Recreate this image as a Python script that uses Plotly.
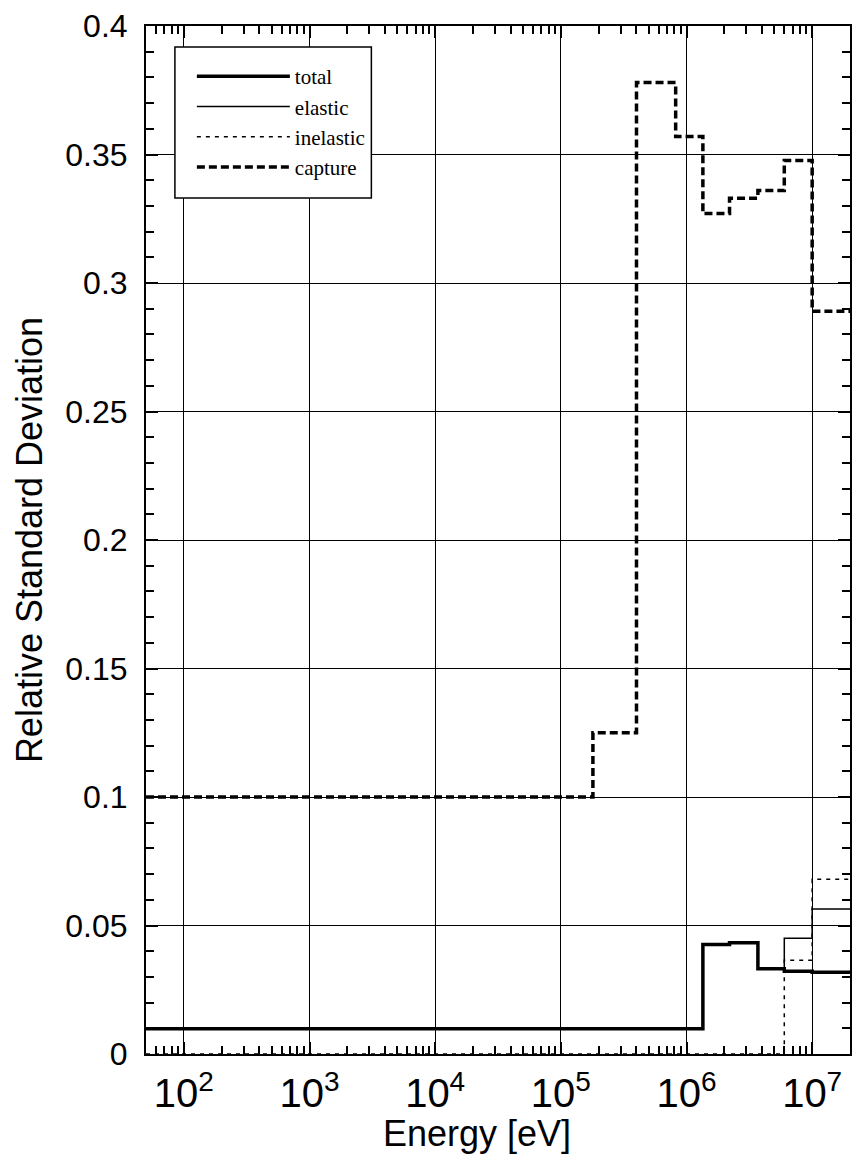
import plotly.graph_objects as go

# Energy group boundaries [eV]
energy_bounds = [50, 1.8e5, 4.0e5, 8.2e5, 1.35e6, 2.2e6, 3.7e6, 6.0e6, 1.0e7, 2.0e7]

# Relative standard deviation per group
total = [0.0098, 0.0098, 0.0098, 0.0098, 0.0426, 0.0433, 0.0332, 0.0322, 0.0318]
elastic = [0.0098, 0.0098, 0.0098, 0.0098, 0.0426, 0.0433, 0.0332, 0.0450, 0.0564]
inelastic = [0.0, 0.0, 0.0, 0.0, 0.0, 0.0, 0.0, 0.0365, 0.0680]
capture = [0.100, 0.125, 0.378, 0.357, 0.327, 0.333, 0.336, 0.3477, 0.289]

series_names = ["total", "elastic", "inelastic", "capture"]
series_values = [total, elastic, inelastic, capture]
series_styles = [
    dict(width=3.5, dash="solid"),
    dict(width=1.5, dash="solid"),
    dict(width=1.5, dash="4px,5px"),
    dict(width=3.5, dash="8px,4px"),
]

fig = go.Figure()
for name, vals, st in zip(series_names, series_values, series_styles):
    fig.add_trace(go.Scatter(
        x=energy_bounds,
        y=list(vals) + [vals[-1]],
        mode="lines",
        line_shape="hv",
        name=name,
        line=dict(color="black", width=st["width"], dash=st["dash"]),
    ))

tick_font = dict(family="Liberation Sans, Arial, sans-serif", size=32, color="black")
title_font = dict(family="Liberation Sans, Arial, sans-serif", size=36, color="black")

# plot area in px: left 146, right 852, top 26, bottom 1054
def px_x(p):
    return (p - 146) / 706.0

def px_y(p):
    return 1 - (p - 26) / 1028.0

fig.update_layout(
    width=857, height=1168,
    margin=dict(l=146, r=5, t=26, b=114),
    paper_bgcolor="white",
    plot_bgcolor="white",
    showlegend=True,
    legend=dict(
        x=px_x(192), y=px_y(56), xanchor="left", yanchor="top",
        bgcolor="rgba(0,0,0,0)", borderwidth=0,
        font=dict(family="Liberation Serif, Times New Roman, serif", size=21, color="black"),
        itemwidth=93, tracegroupgap=0, traceorder="normal",
    ),
    shapes=[dict(
        type="rect", xref="paper", yref="paper",
        x0=px_x(175), x1=px_x(372), y0=px_y(198), y1=px_y(47),
        line=dict(color="black", width=1.5), fillcolor="white", layer="above",
    )],
    annotations=[dict(
        text="Energy [eV]", xref="paper", yref="paper",
        x=px_x(478), y=px_y(1133), xanchor="center", yanchor="middle",
        showarrow=False, font=title_font,
    )],
    xaxis=dict(
        type="log",
        range=[1.69897, 7.30103],
        dtick=1,
        exponentformat="power",
        showexponent="all",
        showgrid=True, gridcolor="black", gridwidth=1,
        showline=True, linecolor="black", linewidth=2, mirror="allticks",
        ticks="inside", ticklen=12, tickwidth=1.5, tickcolor="black",
        minor=dict(dtick="D1", ticks="inside", ticklen=8, tickwidth=1.5, tickcolor="black", showgrid=False),
        tickfont=tick_font,
        ticklabelstandoff=5,
        zeroline=False,
    ),
    yaxis=dict(
        range=[0, 0.4],
        dtick=0.05,
        showgrid=True, gridcolor="black", gridwidth=1,
        showline=True, linecolor="black", linewidth=2, mirror="allticks",
        ticks="inside", ticklen=12, tickwidth=1.5, tickcolor="black",
        minor=dict(dtick=0.01, ticks="inside", ticklen=8, tickwidth=1.5, tickcolor="black", showgrid=False),
        tickfont=tick_font,
        ticklabelstandoff=10,
        title=dict(text="Relative Standard Deviation", font=title_font, standoff=12),
        zeroline=False,
    ),
)

fig.write_html("out.html")
